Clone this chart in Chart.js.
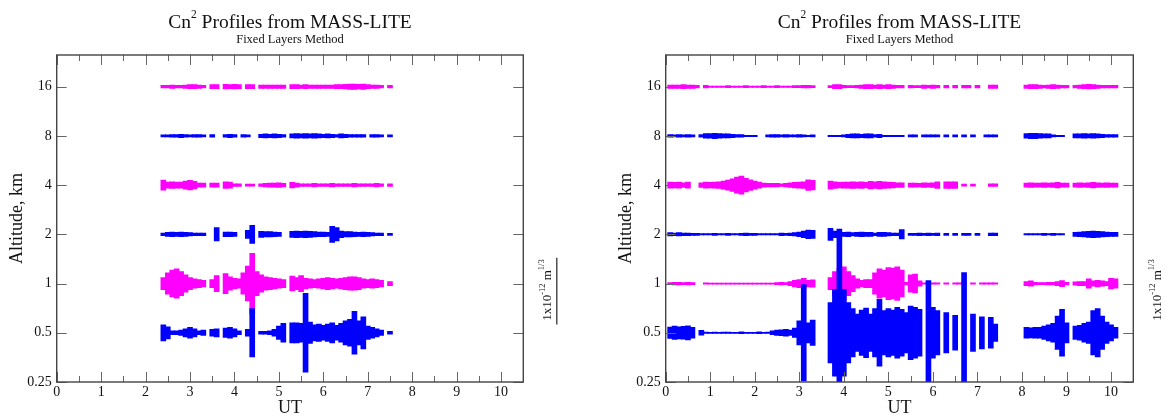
<!DOCTYPE html>
<html>
<head>
<meta charset="utf-8">
<script src="https://cdn.jsdelivr.net/npm/chart.js@4"></script>
<style>
  body { margin: 0; background: #fff; width: 1167px; height: 419px; overflow: hidden; position: relative; }
  canvas { position: absolute; top: 0; }
</style>
</head>
<body>
<canvas id="left" width="583" height="419" style="left:0"></canvas>
<canvas id="right" width="584" height="419" style="left:583px"></canvas>
<script>
/* ---- data ---- */
// layer altitudes (km), bottom layer first so it is painted on top
const altitudes = [0.5, 1, 2, 4, 8, 16];
const yTicks = [0.25, 0.5, 1, 2, 4, 8, 16];
const yLabels = ["0.25", "0.5", "1", "2", "4", "8", "16"];
const xMajor = [0, 1, 2, 3, 4, 5, 6, 7, 8, 9, 10];
const xMinor = [0.5, 1.5, 2.5, 3.5, 4.5, 5.5, 6.5, 7.5, 8.5, 9.5];

// UT sample times, left night
const utLeft = [
  2.4, 2.5, 2.6, 2.7, 2.8, 2.9, 3.0, 3.1, 3.2, 3.3,
  3.4, 3.5, 3.6, 3.7, 3.8, 3.9, 4.0, 4.1, 4.2, 4.3,
  4.4, 4.5, 4.6, 4.7, 4.8, 4.9, 5.0, 5.1, 5.2, 5.3,
  5.4, 5.5, 5.6, 5.7, 5.8, 5.9, 6.0, 6.1, 6.2, 6.3,
  6.4, 6.5, 6.6, 6.7, 6.8, 6.9, 7.0, 7.1, 7.2, 7.3,
  7.4, 7.5
];

// layer strength, units of 1e-13 m^1/3 (null = no data)
const left05 = [
  1.2, 0.9, 0.3, 0.3, 0.4, 0.6, 0.8, 0.6, 0.3, 0.4,
  null, 0.5, 0.6, null, 0.7, 0.8, 0.6, 0.3, null, 0.5,
  3.6, null, 0.2, 0.2, 0.3, 0.5, 1.0, 1.4, null, 1.5,
  1.5, 1.4, 5.9, 1.6, 1.2, 1.3, 1.1, 1.3, 1.5, 1.1,
  1.4, 1.8, 2.0, 3.2, 1.8, 2.4, 1.0, 0.8, 0.6, 0.4,
  null, 0.2
];
const left1 = [
  0.9, 1.6, 2.0, 2.2, 1.8, 1.3, 0.9, 0.7, 0.6, 0.5,
  null, 0.6, 1.2, null, 1.5, 1.0, 0.8, 0.7, 1.6, 2.6,
  4.5, 1.8, 1.3, 1.0, 0.9, 0.8, 0.7, 0.6, null, 1.1,
  0.9, 1.2, 0.8, 0.7, 0.6, 0.7, 0.8, 0.9, 0.8, 0.7,
  0.8, 0.9, 1.0, 1.0, 0.9, 0.7, 0.6, 0.7, 0.6, 0.5,
  null, 0.3
];
const left2 = [
  0.2, 0.3, 0.35, 0.3, 0.35, 0.3, 0.25, 0.2, 0.2, 0.2,
  null, null, 1.0, null, 0.35, 0.35, 0.3, null, null, 0.6,
  1.35, null, 0.45, 0.4, 0.4, 0.35, 0.3, null, null, 0.45,
  0.5, 0.45, 0.5, 0.45, 0.4, 0.35, 0.35, 0.3, 1.2, 1.0,
  0.5, 0.4, 0.4, 0.35, 0.3, 0.35, 0.3, 0.25, 0.2, 0.2,
  null, 0.15
];
const left4 = [
  0.75, 0.45, 0.5, 0.45, 0.45, 0.6, 0.7, 0.55, 0.3, 0.3,
  null, 0.3, 0.3, null, 0.5, 0.45, 0.2, 0.2, null, 0.15,
  0.15, null, 0.2, 0.25, 0.3, 0.3, 0.35, 0.25, null, 0.4,
  0.3, 0.2, 0.2, 0.2, 0.25, 0.2, 0.2, 0.2, 0.25, 0.2,
  0.2, 0.2, 0.2, 0.25, 0.2, 0.2, 0.2, 0.2, 0.25, 0.2,
  null, 0.2
];
const left8 = [
  0.15, 0.15, 0.2, 0.2, 0.25, 0.2, 0.15, 0.2, 0.2, 0.15,
  null, 0.2, null, null, 0.2, 0.25, 0.2, null, 0.2, 0.15,
  null, null, 0.25, 0.3, 0.25, 0.3, 0.25, 0.2, null, 0.3,
  0.35, 0.3, 0.35, 0.3, 0.35, 0.3, 0.25, 0.3, 0.25, 0.2,
  0.3, 0.25, 0.2, 0.2, 0.2, 0.2, null, 0.2, 0.2, 0.15,
  null, 0.15
];
const left16 = [
  0.2, 0.2, 0.25, 0.2, 0.2, 0.25, 0.3, 0.3, 0.25, 0.2,
  null, 0.3, 0.3, null, 0.35, 0.3, 0.35, 0.3, null, 0.3,
  0.3, null, 0.25, 0.25, 0.25, 0.25, 0.25, 0.25, null, 0.3,
  0.3, 0.25, 0.3, 0.25, 0.25, 0.25, 0.25, 0.25, 0.25, 0.3,
  0.3, 0.35, 0.4, 0.4, 0.35, 0.4, 0.3, 0.25, 0.25, 0.2,
  null, 0.2
];

// UT sample times, right night
const utRight = [
  0.1, 0.2, 0.3, 0.4, 0.5, 0.6, 0.7, 0.8, 0.9, 1.0,
  1.1, 1.2, 1.3, 1.4, 1.5, 1.6, 1.7, 1.8, 1.9, 2.0,
  2.1, 2.2, 2.3, 2.4, 2.5, 2.6, 2.7, 2.8, 2.9, 3.0,
  3.1, 3.2, 3.3, 3.4, 3.5, 3.6, 3.7, 3.8, 3.9, 4.0,
  4.1, 4.2, 4.3, 4.4, 4.5, 4.6, 4.7, 4.8, 4.9, 5.0,
  5.1, 5.2, 5.3, 5.4, 5.5, 5.6, 5.7, 5.8, 5.9, 6.0,
  6.1, 6.2, 6.3, 6.4, 6.5, 6.6, 6.7, 6.8, 6.9, 7.0,
  7.1, 7.2, 7.3, 7.4, 7.5, 7.6, 7.7, 7.8, 7.9, 8.0,
  8.1, 8.2, 8.3, 8.4, 8.5, 8.6, 8.7, 8.8, 8.9, 9.0,
  9.1, 9.2, 9.3, 9.4, 9.5, 9.6, 9.7, 9.8, 9.9, 10.0,
  10.1
];

const right05 = [
  0.85, 1.0, 0.9, 0.95, 1.05, 0.8, null, 0.35, 0.1, 0.08,
  0.1, 0.08, 0.1, 0.1, 0.08, 0.08, 0.15, 0.08, 0.08, 0.08,
  0.15, 0.08, 0.1, 0.3, 0.4, 0.45, 0.5, 0.4, 0.7, 1.8,
  7.2, 1.5, 1.9, null, null, null, 4.5, 6.5, 15.5, 6.5,
  4.5, 3.6, 2.8, 3.4, 3.7, 2.8, 3.6, 5.0, 3.3, 3.6,
  3.4, 3.8, 3.5, 3.0, 4.0, 3.8, 3.5, null, 7.8, 3.8,
  3.3, null, 3.0, null, 2.6, null, 9.0, null, 2.8, null,
  2.4, null, 2.3, 1.3, null, null, null, null, null, null,
  0.8, 0.75, 0.8, 0.8, 1.0, 1.2, 1.4, 2.5, 3.5, 1.5,
  null, 1.0, 1.1, 1.4, 1.6, 3.3, 3.6, 2.5, 1.6, 1.2,
  0.8
];
const right1 = [
  0.15, 0.2, 0.2, 0.15, 0.2, 0.15, null, null, 0.1, 0.08,
  0.08, 0.08, 0.08, 0.08, 0.08, 0.08, 0.08, 0.08, 0.08, 0.08,
  0.08, 0.08, 0.08, 0.08, 0.15, 0.2, 0.15, 0.3, 0.5, 0.6,
  0.8, 0.5, 0.55, null, null, null, 0.9, 1.8, 2.3, 2.5,
  1.8, 1.2, 0.7, 0.5, 0.6, 0.6, 1.6, 2.2, 2.0, 2.4,
  2.3, 2.5, 2.0, 0.2, 1.3, 1.4, 0.4, 0.1, 0.1, 0.1,
  0.1, null, 0.1, null, 0.1, 0.1, 0.1, null, 0.1, null,
  0.1, 0.1, 0.1, 0.1, null, null, null, null, null, null,
  0.3, 0.4, 0.2, 0.15, 0.15, 0.2, 0.2, 0.3, 0.45, 0.2,
  null, 0.25, 0.3, 0.3, 0.7, 0.4, 0.5, 0.4, 0.3, 0.8,
  0.7
];
const right2 = [
  0.25, 0.2, 0.25, 0.2, 0.2, 0.15, 0.15, 0.1, 0.1, 0.1,
  0.15, 0.1, 0.1, 0.15, 0.1, 0.1, 0.15, 0.2, 0.15, 0.15,
  0.1, 0.1, 0.1, 0.1, 0.1, 0.2, 0.15, 0.2, 0.25, 0.35,
  0.5, 0.65, 0.6, null, null, null, 0.9, 0.5, 0.3, 0.3,
  0.35, 0.25, 0.3, 0.35, 0.3, 0.3, 0.2, 0.3, 0.3, 0.25,
  0.2, 0.2, 0.7, null, 0.15, 0.15, 0.2, 0.15, 0.2, 0.15,
  0.2, null, 0.15, null, 0.15, null, 0.15, 0.15, null, 0.15,
  null, null, 0.2, 0.2, null, null, null, null, null, null,
  0.1, 0.1, 0.1, 0.1, 0.15, 0.1, 0.15, 0.1, 0.1, null,
  null, 0.3, 0.35, 0.4, 0.45, 0.5, 0.45, 0.4, 0.35, 0.3,
  0.3
];
const right4 = [
  0.45, 0.4, 0.45, 0.35, 0.45, null, null, 0.35, 0.45, 0.4,
  0.45, 0.5, 0.6, 0.75, 0.95, 1.2, 1.35, 1.0, 0.8, 0.6,
  0.45, 0.3, 0.25, 0.25, 0.25, 0.2, 0.25, 0.35, 0.4, 0.45,
  0.5, 0.8, 0.7, null, null, null, 0.6, 0.5, 0.4, 0.45,
  0.45, 0.5, 0.45, 0.5, 0.4, 0.55, 0.5, 0.55, 0.5, 0.45,
  0.4, 0.35, 0.35, null, 0.3, 0.3, 0.25, 0.35, 0.3, 0.35,
  0.5, null, 0.5, 0.5, 0.5, null, 0.15, null, 0.15, null,
  null, null, 0.2, 0.2, null, null, null, null, null, null,
  0.3, 0.35, 0.3, 0.3, 0.35, 0.3, 0.35, 0.4, 0.3, 0.3,
  null, 0.3, 0.35, 0.3, 0.35, 0.4, 0.35, 0.3, 0.35, 0.3,
  0.3
];
const right8 = [
  0.2, 0.15, 0.2, 0.15, 0.2, 0.15, null, 0.2, 0.35, 0.35,
  0.4, 0.35, 0.3, 0.3, 0.25, 0.2, 0.2, 0.1, 0.1, 0.1,
  null, null, 0.15, 0.2, 0.2, 0.15, 0.2, 0.15, 0.15, 0.2,
  0.15, 0.1, 0.15, null, null, null, 0.1, 0.1, 0.1, 0.15,
  0.25, 0.3, 0.3, 0.25, 0.3, 0.3, 0.2, 0.25, 0.1, 0.1,
  0.1, 0.1, 0.1, null, 0.15, 0.15, null, 0.15, 0.15, 0.15,
  0.15, null, 0.15, null, 0.15, null, 0.15, null, 0.15, null,
  null, 0.15, 0.15, 0.15, null, null, null, null, null, null,
  0.35, 0.4, 0.4, 0.35, 0.3, 0.3, 0.15, 0.1, 0.1, null,
  null, 0.3, 0.3, 0.35, 0.3, 0.35, 0.3, 0.25, 0.2, 0.2,
  0.2
];
const right16 = [
  0.25, 0.25, 0.25, 0.3, 0.25, 0.25, 0.2, null, 0.2, 0.1,
  0.1, 0.1, 0.1, 0.15, 0.1, 0.1, 0.1, 0.15, 0.1, 0.1,
  0.1, 0.15, 0.1, 0.1, 0.15, 0.1, 0.1, 0.1, 0.15, 0.15,
  0.2, 0.2, 0.15, null, null, null, 0.15, 0.3, 0.3, 0.2,
  0.15, 0.15, 0.2, 0.25, 0.3, 0.3, 0.25, 0.3, 0.25, 0.3,
  0.25, 0.2, 0.2, null, 0.2, 0.15, 0.15, 0.25, 0.2, 0.25,
  0.2, null, 0.2, null, 0.2, null, 0.2, 0.2, null, 0.2,
  null, null, 0.25, 0.25, null, null, null, null, null, null,
  0.25, 0.3, 0.3, 0.25, 0.2, 0.25, 0.3, 0.25, 0.2, 0.2,
  null, 0.2, 0.25, 0.3, 0.35, 0.3, 0.25, 0.2, 0.2, 0.2,
  0.2
];

/* ---- drawing ---- */
const SERIF = '"Liberation Serif", "DejaVu Serif", serif';
const MAGENTA = "#ff00ff";
const BLUE = "#0000ff";
const layerColors = [BLUE, MAGENTA, BLUE, MAGENTA, BLUE, MAGENTA];
const UNIT = 0.136;      // altitude octaves per 1e-13 m^1/3 (from the scale bar)
const SCALE_BAR = 10;    // 1x10^-12 m^1/3

Chart.defaults.font.family = SERIF;
Chart.defaults.color = "#111";

function layerBars(ut, amp, alt) {
  const pts = [];
  ut.forEach((t, i) => {
    if (amp[i] == null) return;
    const f = Math.pow(2, amp[i] * UNIT);
    pts.push({ x: t, y: [alt / f, alt * f] });
  });
  return pts;
}

function drawRuns(ctx, runs, cx, baseline) {
  let total = 0;
  runs.forEach(r => { ctx.font = r.size + "px " + SERIF; r.w = ctx.measureText(r.text).width; total += r.w; });
  let x = cx - total / 2;
  runs.forEach(r => {
    ctx.font = r.size + "px " + SERIF;
    ctx.fillText(r.text, x, baseline + r.dy);
    x += r.w;
  });
}

const decor = {
  id: "decor",
  afterDatasetsDraw(chart) {
    const { ctx, chartArea: a, scales: { x, y } } = chart;
    ctx.save();
    ctx.strokeStyle = "#666";
    ctx.lineWidth = 1;
    ctx.beginPath();
    const vTick = (v, len) => {
      const px = Math.round(x.getPixelForValue(v)) + 0.5;
      ctx.moveTo(px, a.bottom); ctx.lineTo(px, a.bottom - len);
      ctx.moveTo(px, a.top); ctx.lineTo(px, a.top + len);
    };
    xMajor.forEach(v => vTick(v, 10));
    xMinor.forEach(v => vTick(v, 6));
    yTicks.forEach(v => {
      const py = Math.round(y.getPixelForValue(v)) + 0.5;
      ctx.moveTo(a.left, py); ctx.lineTo(a.left + 10, py);
      ctx.moveTo(a.right, py); ctx.lineTo(a.right - 10, py);
    });
    ctx.stroke();
    ctx.strokeStyle = "#444";
    ctx.lineWidth = 1.4;
    ctx.strokeRect(a.left, a.top, a.right - a.left, a.bottom - a.top);
    ctx.restore();
  },
  afterDraw(chart) {
    const { ctx, chartArea: a, scales: { y }, width } = chart;
    const cx = (a.left + a.right) / 2;
    ctx.save();
    ctx.fillStyle = "#111";
    ctx.textBaseline = "alphabetic";
    drawRuns(ctx, [
      { text: "Cn", size: 19.5, dy: 0 },
      { text: "2", size: 11.5, dy: -10 },
      { text: " Profiles from MASS-LITE", size: 19.5, dy: 0 }
    ], cx, 27.5);
    drawRuns(ctx, [{ text: "Fixed Layers Method", size: 12.5, dy: 0 }], cx, 43);

    // amplitude scale: label and bar
    const midY = a.top + 0.722 * (a.bottom - a.top);
    const barLen = y.getPixelForValue(1) - y.getPixelForValue(Math.pow(2, SCALE_BAR * UNIT));
    ctx.save();
    ctx.translate(a.right + 27.5, midY - 1);
    ctx.rotate(-Math.PI / 2);
    drawRuns(ctx, [
      { text: "1x10", size: 13, dy: 0 },
      { text: "-12", size: 8.5, dy: -6 },
      { text: " m", size: 13, dy: 0 },
      { text: "1/3", size: 8.5, dy: -7 }
    ], 0, 0);
    ctx.restore();
    const bx = a.right + 33.5;
    if (bx + 1 < width) {
      ctx.strokeStyle = "#333";
      ctx.lineWidth = 1.3;
      ctx.beginPath();
      ctx.moveTo(bx, midY - barLen / 2);
      ctx.lineTo(bx, midY + barLen / 2);
      ctx.stroke();
    }
    ctx.restore();
  }
};

function makeChart(id, ut, layers, padLeft, padRight) {
  const datasets = layers.map((amp, k) => ({
    data: layerBars(ut, amp, altitudes[k]),
    backgroundColor: layerColors[k],
    borderWidth: 0,
    borderSkipped: false,
    barThickness: 5,
    grouped: false,
    clip: 0
  }));
  return new Chart(document.getElementById(id), {
    type: "bar",
    data: { datasets },
    plugins: [decor],
    options: {
      responsive: false,
      devicePixelRatio: 1,
      animation: false,
      events: [],
      layout: { padding: { top: 55, left: padLeft, right: padRight, bottom: 0 } },
      plugins: { legend: { display: false }, tooltip: { enabled: false } },
      scales: {
        x: {
          type: "linear",
          min: 0,
          max: 10.5,
          offset: false,
          afterFit: s => { s.height = 37; },
          grid: { display: false, drawTicks: false },
          border: { display: false },
          ticks: { stepSize: 1, includeBounds: false, maxRotation: 0, autoSkip: false, padding: 2, font: { size: 14 } },
          title: { display: true, text: "UT", font: { size: 18 }, padding: 0 }
        },
        y: {
          type: "logarithmic",
          min: 0.25,
          max: 25,
          afterBuildTicks: s => { s.ticks = yTicks.map(v => ({ value: v })); },
          afterFit: s => { s.width = 56.7; },
          grid: { display: false, drawTicks: false },
          border: { display: false },
          ticks: { callback: (v, i) => yLabels[i], padding: 5, font: { size: 14 } },
          title: { display: true, text: "Altitude, km", font: { size: 18 }, padding: { top: 6, bottom: 0 } }
        }
      }
    }
  });
}

makeChart("left", utLeft, [left05, left1, left2, left4, left8, left16], 0, 59.7);
makeChart("right", utRight, [right05, right1, right2, right4, right8, right16], 26, 33.7);
</script>
</body>
</html>
